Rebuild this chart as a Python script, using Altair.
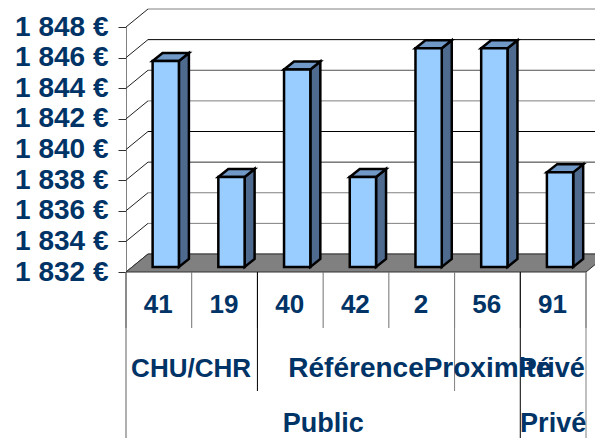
import altair as alt
import pandas as pd

# ---- values ----
codes = ["41", "19", "40", "42", "2", "56", "91"]
values = [1845.45, 1837.88, 1844.90, 1837.88, 1846.28, 1846.28, 1838.18]
y_ticks = [1832, 1834, 1836, 1838, 1840, 1842, 1844, 1846, 1848]
y_tick_labels = ["1 832 €", "1 834 €", "1 836 €", "1 838 €", "1 840 €",
                 "1 842 €", "1 844 €", "1 846 €", "1 848 €"]
grid_colors = ["#808080", "#808080", "#808080", "#303030", "#000000",
               "#808080", "#505050", "#000000", "#808080"]
level2_labels = ["CHU/CHR", "Référence", "Proximité", "Privé"]
level2_spans = [(0, 2), (2, 5), (5, 6), (6, 7)]
level2_sizes = [26, 28, 28, 27]
level3_labels = ["Public", "Privé"]
level3_spans = [(0, 6), (6, 7)]

# ---- layout (pixels) converted to data units ----
PLOT_W, PLOT_H = 460, 245
N = len(codes)
UX = PLOT_W / N                     # px per category
UY = PLOT_H / (y_ticks[-1] - y_ticks[0])  # px per euro
BASE = y_ticks[0]
def dx(px): return px / UX
def dy(px): return px / UY

WALL_DX, WALL_DY = dx(22), dy(18)
BAR_X0, BAR_W = 0.405, 0.40
BAR_LIFT = dy(5)                    # bars stand 5px back on the floor
BAR_BASE = BASE + BAR_LIFT
SIDE_DX, SIDE_DY = dx(10), dy(8)

TEXT = "#003366"
FONT = "Liberation Sans"

xs = alt.Scale(domain=[0, N], range=[0, PLOT_W], nice=False, zero=False)
ys = alt.Scale(domain=[y_ticks[0], y_ticks[-1]], range=[PLOT_H, 0], nice=False, zero=False)
y_axis = alt.Axis(
    values=y_ticks,
    labelExpr="%r[(datum.value-%d)/2]" % (y_tick_labels, BASE),
    labelFont=FONT, labelFontWeight="bold", labelFontSize=28,
    labelColor=TEXT, labelPadding=10, tickSize=8, tickColor="#303030",
    domainColor="#808080", domainWidth=1, grid=False, title=None,
    labelOverlap=False, labelBound=False, orient="left")
X = lambda f: alt.X(f, type="quantitative", scale=xs, axis=None)
Y = lambda f: alt.Y(f, type="quantitative", scale=ys, axis=y_axis, title=None)

# back wall grid lines and side wall diagonals
grid = pd.DataFrame({"v": y_ticks, "c": grid_colors})
grid["vb"] = grid.v + WALL_DY
grid["xl"] = WALL_DX
grid["xr"] = N + WALL_DX
grid["x0"] = 0.0

wall = alt.Chart(grid).mark_rule(strokeWidth=1).encode(
    x=X("xl"), x2="xr", y=Y("vb"),
    color=alt.Color("c", scale=None),
)
diag = alt.Chart(grid).mark_rule(strokeWidth=1, color="#202020").encode(
    x=X("x0"), x2="xl", y=Y("v"), y2="vb")

# floor
floor_df = pd.DataFrame({"y": [BASE, BASE + WALL_DY],
                         "a": [0, WALL_DX], "b": [N, N + WALL_DX]})
floor = alt.Chart(floor_df).mark_area(orient="horizontal", color="#808080",
                                      stroke="#303030", strokeWidth=1).encode(
    y=Y("y"), x=X("a"), x2="b")

# bars
bars = pd.DataFrame({"i": range(N), "v": values})
bars["top"] = bars.v + BAR_LIFT
bars["l"] = bars.i + BAR_X0
bars["r"] = bars.l + BAR_W

side_rows, top_rows = [], []
for r in bars.itertuples():
    side_rows += [{"i": r.i, "x": r.r, "t": r.top, "b": BAR_BASE},
                  {"i": r.i, "x": r.r + SIDE_DX, "t": r.top + SIDE_DY, "b": BAR_BASE + SIDE_DY}]
    top_rows += [{"i": r.i, "y": r.top, "a": r.l, "b": r.r},
                 {"i": r.i, "y": r.top + SIDE_DY, "a": r.l + SIDE_DX, "b": r.r + SIDE_DX}]

side = alt.Chart(pd.DataFrame(side_rows)).mark_area(
    orient="vertical", color="#4F6A8F", stroke="black", strokeWidth=2.5, strokeJoin="miter").encode(
    x=X("x"), y=Y("t"), y2="b", detail="i:N")
top = alt.Chart(pd.DataFrame(top_rows)).mark_area(
    orient="horizontal", color="#7099C7", stroke="black", strokeWidth=2.5, strokeJoin="miter").encode(
    y=Y("y"), x=X("a"), x2="b", detail="i:N")
bars_df = bars.assign(base=BAR_BASE)
front = alt.Chart(bars_df).mark_bar(color="#99CCFF", stroke="black", strokeWidth=2.5).encode(
    x=X("l"), x2="r", y=Y("top"), y2="base")

# category table below the floor
LV1, LV2, LV3 = BASE - dy(56), BASE - dy(119), BASE - dy(174)
sep_rows = []
for k in range(0, N + 1):
    sep_rows.append({"x": k, "end": LV1, "c": "#707070"})
sep_rows.append({"x": 2, "end": LV2, "c": "#000000"})
sep_rows.append({"x": 5, "end": LV2, "c": "#808080"})
sep_rows.append({"x": 0, "end": LV3, "c": "#606060"})
sep_rows.append({"x": 6, "end": LV3, "c": "#000000"})
sep_rows.append({"x": N, "end": LV3, "c": "#808080"})
seps = pd.DataFrame(sep_rows).assign(top=BASE)
sep = alt.Chart(seps).mark_rule(strokeWidth=1).encode(
    x=X("x"), y=Y("top"), y2="end", color=alt.Color("c", scale=None))

def text_layer(labels, centers, ypx, sizes):
    df = pd.DataFrame({"t": labels, "x": centers, "y": BASE - dy(ypx), "s": sizes})
    return alt.Chart(df).mark_text(font=FONT, fontWeight="bold", color=TEXT,
                                   align="center", baseline="middle").encode(
        x=X("x"), y=Y("y"), text="t:N", size=alt.Size("s", scale=None))

t1 = text_layer(codes, [i + 0.49 for i in range(N)], 33, [26] * N)
t2 = text_layer(level2_labels,
                [(a + b) / 2 + o for (a, b), o in zip(level2_spans, [-0.01, 0.0, 0.0, -0.02])],
                97, level2_sizes)
t3 = text_layer(level3_labels, [(a + b) / 2 for (a, b) in level3_spans], 152, [27, 27])

chart = alt.layer(wall, diag, floor, side, top, front, sep, t1, t2, t3).properties(
    width=PLOT_W, height=PLOT_H,
    padding={"left": 118, "top": 19, "right": 9, "bottom": 166},
    autosize=alt.AutoSizeParams(type="none"),
    background="white",
).configure_view(stroke=None)

chart.save("out.html", embed_options={"renderer": "svg", "actions": False})
